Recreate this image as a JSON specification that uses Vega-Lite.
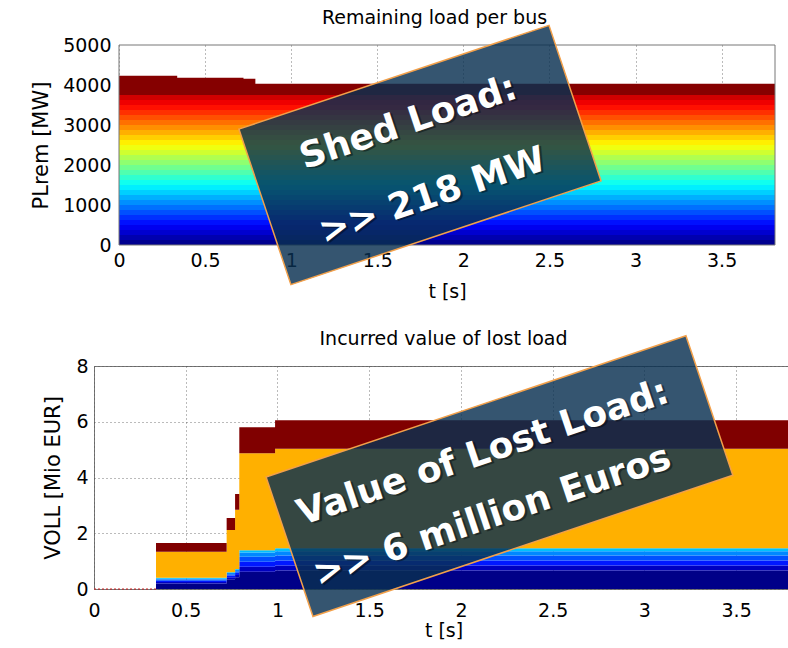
{
"$schema": "https://vega.github.io/schema/vega-lite/v6.json",
"padding": {"left": 30, "top": 9, "right": 0, "bottom": 0},
"spacing": 28,
"resolve": {"scale": {"color": "independent", "x": "independent", "y": "independent"}},
"config": {
  "font": "DejaVu Sans",
  "view": {"stroke": "#777"},
  "axis": {"labelFontSize": 19, "titleFontSize": 19, "labelColor": "#000", "titleColor": "#000", "titleFontWeight": "normal", "ticks": false, "domain": false, "grid": true, "gridColor": "#555", "gridDash": [1, 3], "gridOpacity": 0.8, "labelFont": "DejaVu Sans", "titleFont": "DejaVu Sans", "labelOverlap": false, "labelFlush": false, "labelBound": false},
  "axisY": {"labelOverlap": false},
  "axisQuantitative": {"labelOverlap": false},
  "title": {"fontSize": 19, "fontWeight": "normal", "color": "#000", "font": "DejaVu Sans", "anchor": "middle", "frame": "group"}
},
"datasets": {
  "load": [
    {"t":0,"b":"b00","v":125},{"t":0,"b":"b01","v":125},{"t":0,"b":"b02","v":125},{"t":0,"b":"b03","v":125},{"t":0,"b":"b04","v":125},{"t":0,"b":"b05","v":125},{"t":0,"b":"b06","v":125},{"t":0,"b":"b07","v":125},{"t":0,"b":"b08","v":125},{"t":0,"b":"b09","v":125},{"t":0,"b":"b10","v":125},{"t":0,"b":"b11","v":125},{"t":0,"b":"b12","v":125},{"t":0,"b":"b13","v":125},{"t":0,"b":"b14","v":125},{"t":0,"b":"b15","v":125},{"t":0,"b":"b16","v":125},{"t":0,"b":"b17","v":125},{"t":0,"b":"b18","v":125},{"t":0,"b":"b19","v":125},{"t":0,"b":"b20","v":125},{"t":0,"b":"b21","v":125},{"t":0,"b":"b22","v":125},{"t":0,"b":"b23","v":125},{"t":0,"b":"b24","v":125},{"t":0,"b":"b25","v":125},{"t":0,"b":"b26","v":125},{"t":0,"b":"b27","v":125},{"t":0,"b":"b28","v":125},{"t":0,"b":"b29","v":125},{"t":0,"b":"b30","v":482},
    {"t":0.338,"b":"b00","v":125},{"t":0.338,"b":"b01","v":125},{"t":0.338,"b":"b02","v":125},{"t":0.338,"b":"b03","v":125},{"t":0.338,"b":"b04","v":125},{"t":0.338,"b":"b05","v":125},{"t":0.338,"b":"b06","v":125},{"t":0.338,"b":"b07","v":125},{"t":0.338,"b":"b08","v":125},{"t":0.338,"b":"b09","v":125},{"t":0.338,"b":"b10","v":125},{"t":0.338,"b":"b11","v":125},{"t":0.338,"b":"b12","v":125},{"t":0.338,"b":"b13","v":125},{"t":0.338,"b":"b14","v":125},{"t":0.338,"b":"b15","v":125},{"t":0.338,"b":"b16","v":125},{"t":0.338,"b":"b17","v":125},{"t":0.338,"b":"b18","v":125},{"t":0.338,"b":"b19","v":125},{"t":0.338,"b":"b20","v":125},{"t":0.338,"b":"b21","v":125},{"t":0.338,"b":"b22","v":125},{"t":0.338,"b":"b23","v":125},{"t":0.338,"b":"b24","v":125},{"t":0.338,"b":"b25","v":125},{"t":0.338,"b":"b26","v":125},{"t":0.338,"b":"b27","v":125},{"t":0.338,"b":"b28","v":125},{"t":0.338,"b":"b29","v":125},{"t":0.338,"b":"b30","v":433},
    {"t":0.723,"b":"b00","v":125},{"t":0.723,"b":"b01","v":125},{"t":0.723,"b":"b02","v":125},{"t":0.723,"b":"b03","v":125},{"t":0.723,"b":"b04","v":125},{"t":0.723,"b":"b05","v":125},{"t":0.723,"b":"b06","v":125},{"t":0.723,"b":"b07","v":125},{"t":0.723,"b":"b08","v":125},{"t":0.723,"b":"b09","v":125},{"t":0.723,"b":"b10","v":125},{"t":0.723,"b":"b11","v":125},{"t":0.723,"b":"b12","v":125},{"t":0.723,"b":"b13","v":125},{"t":0.723,"b":"b14","v":125},{"t":0.723,"b":"b15","v":125},{"t":0.723,"b":"b16","v":125},{"t":0.723,"b":"b17","v":125},{"t":0.723,"b":"b18","v":125},{"t":0.723,"b":"b19","v":125},{"t":0.723,"b":"b20","v":125},{"t":0.723,"b":"b21","v":125},{"t":0.723,"b":"b22","v":125},{"t":0.723,"b":"b23","v":125},{"t":0.723,"b":"b24","v":125},{"t":0.723,"b":"b25","v":125},{"t":0.723,"b":"b26","v":125},{"t":0.723,"b":"b27","v":125},{"t":0.723,"b":"b28","v":125},{"t":0.723,"b":"b29","v":125},{"t":0.723,"b":"b30","v":408},
    {"t":0.792,"b":"b00","v":125},{"t":0.792,"b":"b01","v":125},{"t":0.792,"b":"b02","v":125},{"t":0.792,"b":"b03","v":125},{"t":0.792,"b":"b04","v":125},{"t":0.792,"b":"b05","v":125},{"t":0.792,"b":"b06","v":125},{"t":0.792,"b":"b07","v":125},{"t":0.792,"b":"b08","v":125},{"t":0.792,"b":"b09","v":125},{"t":0.792,"b":"b10","v":125},{"t":0.792,"b":"b11","v":125},{"t":0.792,"b":"b12","v":125},{"t":0.792,"b":"b13","v":125},{"t":0.792,"b":"b14","v":125},{"t":0.792,"b":"b15","v":125},{"t":0.792,"b":"b16","v":125},{"t":0.792,"b":"b17","v":125},{"t":0.792,"b":"b18","v":125},{"t":0.792,"b":"b19","v":125},{"t":0.792,"b":"b20","v":125},{"t":0.792,"b":"b21","v":125},{"t":0.792,"b":"b22","v":125},{"t":0.792,"b":"b23","v":125},{"t":0.792,"b":"b24","v":125},{"t":0.792,"b":"b25","v":125},{"t":0.792,"b":"b26","v":125},{"t":0.792,"b":"b27","v":125},{"t":0.792,"b":"b28","v":125},{"t":0.792,"b":"b29","v":125},{"t":0.792,"b":"b30","v":283},
    {"t":3.81,"b":"b00","v":125},{"t":3.81,"b":"b01","v":125},{"t":3.81,"b":"b02","v":125},{"t":3.81,"b":"b03","v":125},{"t":3.81,"b":"b04","v":125},{"t":3.81,"b":"b05","v":125},{"t":3.81,"b":"b06","v":125},{"t":3.81,"b":"b07","v":125},{"t":3.81,"b":"b08","v":125},{"t":3.81,"b":"b09","v":125},{"t":3.81,"b":"b10","v":125},{"t":3.81,"b":"b11","v":125},{"t":3.81,"b":"b12","v":125},{"t":3.81,"b":"b13","v":125},{"t":3.81,"b":"b14","v":125},{"t":3.81,"b":"b15","v":125},{"t":3.81,"b":"b16","v":125},{"t":3.81,"b":"b17","v":125},{"t":3.81,"b":"b18","v":125},{"t":3.81,"b":"b19","v":125},{"t":3.81,"b":"b20","v":125},{"t":3.81,"b":"b21","v":125},{"t":3.81,"b":"b22","v":125},{"t":3.81,"b":"b23","v":125},{"t":3.81,"b":"b24","v":125},{"t":3.81,"b":"b25","v":125},{"t":3.81,"b":"b26","v":125},{"t":3.81,"b":"b27","v":125},{"t":3.81,"b":"b28","v":125},{"t":3.81,"b":"b29","v":125},{"t":3.81,"b":"b30","v":283}
  ],
  "voll": [
    {"t":0,"c":"c0","v":0},{"t":0,"c":"c1","v":0},{"t":0,"c":"c2","v":0},{"t":0,"c":"c3","v":0},{"t":0,"c":"c4","v":0},{"t":0,"c":"c5","v":0},{"t":0,"c":"c6","v":0},{"t":0,"c":"c7","v":0},
    {"t":0.338,"c":"c0","v":0.2},{"t":0.338,"c":"c1","v":0.05},{"t":0.338,"c":"c2","v":0.05},{"t":0.338,"c":"c3","v":0.04},{"t":0.338,"c":"c4","v":0.03},{"t":0.338,"c":"c5","v":0.03},{"t":0.338,"c":"c6","v":0.94},{"t":0.338,"c":"c7","v":0.31},
    {"t":0.723,"c":"c0","v":0.35},{"t":0.723,"c":"c1","v":0.07},{"t":0.723,"c":"c2","v":0.06},{"t":0.723,"c":"c3","v":0.05},{"t":0.723,"c":"c4","v":0.04},{"t":0.723,"c":"c5","v":0.03},{"t":0.723,"c":"c6","v":1.52},{"t":0.723,"c":"c7","v":0.43},
    {"t":0.769,"c":"c0","v":0.42},{"t":0.769,"c":"c1","v":0.08},{"t":0.769,"c":"c2","v":0.08},{"t":0.769,"c":"c3","v":0.06},{"t":0.769,"c":"c4","v":0.05},{"t":0.769,"c":"c5","v":0.03},{"t":0.769,"c":"c6","v":2.12},{"t":0.769,"c":"c7","v":0.57},
    {"t":0.792,"c":"c0","v":0.62},{"t":0.792,"c":"c1","v":0.18},{"t":0.792,"c":"c2","v":0.18},{"t":0.792,"c":"c3","v":0.18},{"t":0.792,"c":"c4","v":0.15},{"t":0.792,"c":"c5","v":0.08},{"t":0.792,"c":"c6","v":3.48},{"t":0.792,"c":"c7","v":0.93},
    {"t":0.987,"c":"c0","v":0.66},{"t":0.987,"c":"c1","v":0.18},{"t":0.987,"c":"c2","v":0.18},{"t":0.987,"c":"c3","v":0.18},{"t":0.987,"c":"c4","v":0.15},{"t":0.987,"c":"c5","v":0.11},{"t":0.987,"c":"c6","v":3.57},{"t":0.987,"c":"c7","v":1.02},
    {"t":3.81,"c":"c0","v":0.66},{"t":3.81,"c":"c1","v":0.18},{"t":3.81,"c":"c2","v":0.18},{"t":3.81,"c":"c3","v":0.18},{"t":3.81,"c":"c4","v":0.15},{"t":3.81,"c":"c5","v":0.11},{"t":3.81,"c":"c6","v":3.57},{"t":3.81,"c":"c7","v":1.02}
  ],
  "zeroLine": [{"t": 0, "v": 0}, {"t": 0.338, "v": 0}],
  "frameTop": [{"t": 0, "t1": 3.81, "v": 0, "v1": 5000}],
  "boxTop": [{"t": 1.748, "v": 2250}],
  "textTop": [{"t": 1.68, "v": 3050, "label": "Shed Load:"}, {"t": 1.82, "v": 1225, "label": ">> 218 MW"}],
  "boxBot": [{"t": 2.21, "v": 4.05}],
  "textBot": [{"t": 2.12, "v": 4.88, "label": "Value of Lost Load:"}, {"t": 2.17, "v": 2.61, "label": ">> 6 million Euros"}]
},
"vconcat": [
  {
    "width": 681, "height": 200,
    "title": {"text": "Remaining load per bus", "offset": -6},
    "view": {"stroke": null},
    "layer": [
      {
        "data": {"name": "load"},
        "mark": {"type": "area", "interpolate": "step-after"},
        "encoding": {
          "x": {"field": "t", "type": "quantitative", "scale": {"domain": [0, 3.81], "range": [25, 681], "nice": false, "zero": false},
                "axis": {"values": [0, 0.5, 1, 1.5, 2, 2.5, 3, 3.5], "format": "~g", "title": "t [s]", "labelPadding": 6.5, "titlePadding": 11.5, "labelOverlap": false, "labelFlush": false}},
          "y": {"field": "v", "type": "quantitative", "stack": "zero", "scale": {"domain": [0, 5000], "nice": false},
                "axis": {"values": [0, 1000, 2000, 3000, 4000, 5000], "tickCount": 6, "format": "d", "title": "PLrem [MW]", "titleFontSize": 21, "labelPadding": 8, "titlePadding": 11, "offset": -25, "grid": false, "labelOverlap": false, "labelSeparation": 0}},
          "color": {"field": "b", "type": "nominal", "legend": null,
                    "scale": {"domain": ["b00","b01","b02","b03","b04","b05","b06","b07","b08","b09","b10","b11","b12","b13","b14","b15","b16","b17","b18","b19","b20","b21","b22","b23","b24","b25","b26","b27","b28","b29","b30"],
                              "range": ["#00008F","#0000AF","#0000CF","#0000EF","#0010FF","#0030FF","#0050FF","#0070FF","#008FFF","#00AFFF","#00CFFF","#00EFFF","#10FFEF","#30FFCF","#50FFAF","#70FF8F","#8FFF70","#AFFF50","#CFFF30","#EFFF10","#FFEF00","#FFCF00","#FFAF00","#FF8F00","#FF7000","#FF5000","#FF3000","#FF1000","#EF0000","#CF0000","#850000"]}},
          "order": {"field": "b", "sort": "ascending"}
        }
      },
      {
        "data": {"name": "frameTop"},
        "mark": {"type": "rect", "fill": "#fff", "fillOpacity": 0, "stroke": "#777", "strokeWidth": 1},
        "encoding": {
          "x": {"field": "t", "type": "quantitative"},
          "x2": {"field": "t1"},
          "y": {"field": "v", "type": "quantitative"},
          "y2": {"field": "v1"}
        }
      },
      {
        "data": {"name": "boxTop"},
        "mark": {"type": "point", "shape": "M-1,-0.5015L1,-0.5015L1,0.5015L-1,0.5015Z", "filled": true, "fill": "#082F50", "fillOpacity": 0.82, "opacity": 1, "stroke": "#F2A04A", "strokeWidth": 1.5, "strokeOpacity": 1, "size": 106929, "angle": -18.5},
        "encoding": {
          "x": {"field": "t", "type": "quantitative"},
          "y": {"field": "v", "type": "quantitative"}
        }
      },
      {
        "data": {"name": "textTop"},
        "mark": {"type": "text", "font": "DejaVu Sans", "fontWeight": "bold", "fontSize": 36, "angle": -18.5, "color": "#000", "opacity": 0.4, "dx": 2, "dy": 2, "align": "center", "baseline": "middle"},
        "encoding": {
          "x": {"field": "t", "type": "quantitative"},
          "y": {"field": "v", "type": "quantitative"},
          "text": {"field": "label"}
        }
      },
      {
        "data": {"name": "textTop"},
        "mark": {"type": "text", "font": "DejaVu Sans", "fontWeight": "bold", "fontSize": 36, "angle": -18.5, "color": "#ffffff", "align": "center", "baseline": "middle"},
        "encoding": {
          "x": {"field": "t", "type": "quantitative"},
          "y": {"field": "v", "type": "quantitative"},
          "text": {"field": "label"}
        }
      }
    ]
  },
  {
    "width": 699, "height": 223,
    "title": {"text": "Incurred value of lost load", "offset": -16},
    "layer": [
      {
        "data": {"name": "voll"},
        "mark": {"type": "area", "interpolate": "step-after"},
        "encoding": {
          "x": {"field": "t", "type": "quantitative", "scale": {"domain": [0, 3.81], "nice": false, "zero": false},
                "axis": {"values": [0, 0.5, 1, 1.5, 2, 2.5, 3, 3.5], "format": "~g", "title": "t [s]", "labelPadding": 12, "titlePadding": 1.5, "labelOverlap": false, "labelFlush": false}},
          "y": {"field": "v", "type": "quantitative", "stack": "zero", "scale": {"domain": [0, 8], "nice": false},
                "axis": {"values": [0, 2, 4, 6, 8], "format": "d", "title": "VOLL [Mio EUR]", "titleFontSize": 21, "labelPadding": 6, "titlePadding": 12.5, "labelOverlap": false}},
          "color": {"field": "c", "type": "nominal", "legend": null,
                    "scale": {"domain": ["c0","c1","c2","c3","c4","c5","c6","c7"],
                              "range": ["#000088","#0000C0","#0018FF","#0050FF","#0088FF","#00C0FF","#FFB000","#800000"]}},
          "order": {"field": "c", "sort": "ascending"}
        }
      },
      {
        "data": {"name": "zeroLine"},
        "mark": {"type": "line", "color": "#D02020", "strokeWidth": 1.2, "strokeDash": [2, 2]},
        "encoding": {
          "x": {"field": "t", "type": "quantitative"},
          "y": {"field": "v", "type": "quantitative"}
        }
      },
      {
        "data": {"name": "boxBot"},
        "mark": {"type": "point", "shape": "M-1,-0.332L1,-0.332L1,0.332L-1,0.332Z", "filled": true, "fill": "#082F50", "fillOpacity": 0.82, "opacity": 1, "stroke": "#F2A04A", "strokeWidth": 1.5, "strokeOpacity": 1, "size": 196249, "angle": -18.6},
        "encoding": {
          "x": {"field": "t", "type": "quantitative"},
          "y": {"field": "v", "type": "quantitative"}
        }
      },
      {
        "data": {"name": "textBot"},
        "mark": {"type": "text", "font": "DejaVu Sans", "fontWeight": "bold", "fontSize": 36, "angle": -18.6, "color": "#000", "opacity": 0.4, "dx": 2, "dy": 2, "align": "center", "baseline": "middle"},
        "encoding": {
          "x": {"field": "t", "type": "quantitative"},
          "y": {"field": "v", "type": "quantitative"},
          "text": {"field": "label"}
        }
      },
      {
        "data": {"name": "textBot"},
        "mark": {"type": "text", "font": "DejaVu Sans", "fontWeight": "bold", "fontSize": 36, "angle": -18.6, "color": "#ffffff", "align": "center", "baseline": "middle"},
        "encoding": {
          "x": {"field": "t", "type": "quantitative"},
          "y": {"field": "v", "type": "quantitative"},
          "text": {"field": "label"}
        }
      }
    ]
  }
]
}
